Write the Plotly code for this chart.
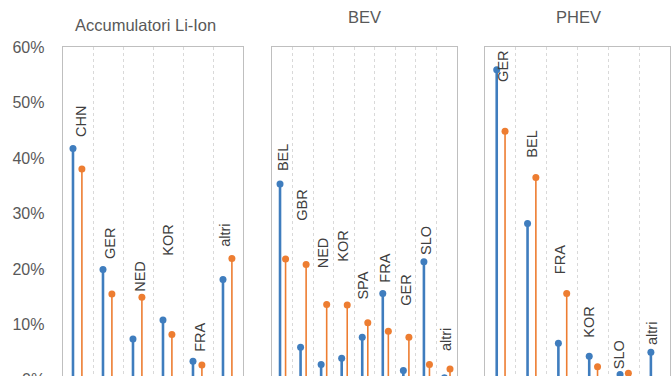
import plotly.graph_objects as go

# ---------------- data ----------------
li_cats = ["CHN", "GER", "NED", "KOR", "FRA", "altri"]
li_blue = [0.417, 0.199, 0.074, 0.108, 0.034, 0.181]
li_orange = [0.380, 0.155, 0.149, 0.082, 0.027, 0.219]
li_label_at = [0.437, 0.217, 0.158, 0.223, 0.050, 0.239]

bev_cats = ["BEL", "GBR", "NED", "KOR", "SPA", "FRA", "GER", "SLO", "altri"]
bev_blue = [0.353, 0.059, 0.028, 0.039, 0.077, 0.156, 0.017, 0.213, 0.004]
bev_orange = [0.218, 0.208, 0.136, 0.135, 0.103, 0.088, 0.077, 0.028, 0.020]
bev_label_at = [0.376, 0.286, 0.201, 0.213, 0.144, 0.175, 0.133, 0.225, 0.052]

phev_cats = ["GER", "BEL", "FRA", "KOR", "SLO", "altri"]
phev_blue = [0.559, 0.282, 0.066, 0.043, 0.010, 0.050]
phev_orange = [0.448, 0.365, 0.156, 0.024, 0.012, 0.0]
phev_label_at = [0.537, 0.401, 0.190, 0.076, 0.020, 0.064]

panel_titles = ["Accumulatori Li-Ion", "BEV", "PHEV"]
y_tick_vals = [0.1, 0.2, 0.3, 0.4, 0.5, 0.6]
y_tick_text = ["10%", "20%", "30%", "40%", "50%", "60%"]
zero_label = "0%"

# ---------------- style ----------------
W, H = 672, 376
FONT = "Liberation Sans, Arial, sans-serif"
BLUE = "#3F7DBE"
ORANGE = "#ED7D31"
TICK_COL = "#595959"
LABEL_COL = "#404040"
BORDER = "#BFBFBF"
GRID = "#D9D9D9"

# label horizontal nudges in pixels (style only)
li_label_dx = [3, 2, 2, 0, 2, -3]
bev_label_dx = [1, -0.8, 0, -0.5, -1, 0.2, 0.4, -0.8, -1.3]
phev_label_dx = [3, 0.5, -2, -3.5, -4, -2.6]

panels = [
    dict(cats=li_cats, blue=li_blue, orange=li_orange, lab=li_label_at,
         dx=li_label_dx, px=(63, 243), off=(-0.167, 0.13),
         title_xy=(145.5, 25)),
    dict(cats=bev_cats, blue=bev_blue, orange=bev_orange, lab=bev_label_at,
         dx=bev_label_dx, px=(272, 457), off=(-0.11, 0.16),
         title_xy=(364.7, 16.7)),
    dict(cats=phev_cats, blue=phev_blue, orange=phev_orange, lab=phev_label_at,
         dx=phev_label_dx, px=(485, 670), off=(-0.12, 0.15),
         title_xy=(578, 16.7)),
]

PLOT_TOP = 47
PX_PER_UNIT = 555.0
y_low = 0.6 - (H - PLOT_TOP) / PX_PER_UNIT

fig = go.Figure()
annotations = []

for k, p in enumerate(panels):
    n = len(p["cats"])
    sfx = "" if k == 0 else str(k + 1)
    xa, ya = "x" + sfx, "y" + sfx
    xs = list(range(n))
    cat_px = (p["px"][1] - p["px"][0]) / n
    fig.add_trace(go.Scatter(
        x=[i + p["off"][0] for i in xs], y=p["blue"], mode="markers",
        marker=dict(color=BLUE, size=7),
        error_y=dict(type="data", symmetric=False, array=[0] * n,
                     arrayminus=p["blue"], color=BLUE, thickness=2.6, width=0),
        xaxis=xa, yaxis=ya, showlegend=False, hoverinfo="skip"))
    fig.add_trace(go.Scatter(
        x=[i + p["off"][1] for i in xs], y=p["orange"], mode="markers",
        marker=dict(color=ORANGE, size=7),
        error_y=dict(type="data", symmetric=False, array=[0] * n,
                     arrayminus=p["orange"], color=ORANGE, thickness=1.6, width=0),
        xaxis=xa, yaxis=ya, showlegend=False, hoverinfo="skip"))

    for i, (c, v) in enumerate(zip(p["cats"], p["lab"])):
        annotations.append(dict(
            x=i + p["dx"][i] / cat_px, y=v, xref=xa, yref=ya, text=c,
            showarrow=False, textangle=-90, xanchor="center", yanchor="bottom",
            borderpad=0, borderwidth=0,
            font=dict(family=FONT, size=14.5, color=LABEL_COL)))

    annotations.append(dict(
        x=p["title_xy"][0] / W, y=1 - p["title_xy"][1] / H, xref="paper",
        yref="paper", text=panel_titles[k], showarrow=False,
        xanchor="center", yanchor="middle",
        font=dict(family=FONT, size=16.5, color=TICK_COL)))

    dom = [p["px"][0] / W, p["px"][1] / W]
    fig.layout["xaxis" + sfx] = dict(
        domain=dom, range=[-0.5, n - 0.5], anchor=ya, side="top",
        showline=True, linecolor=BORDER, linewidth=1.3, mirror=False,
        tickvals=[i + 0.5 for i in range(n - 1)], showticklabels=False,
        ticks="", showgrid=True, gridcolor=GRID, griddash="dot",
        gridwidth=1, zeroline=False, fixedrange=True, automargin=False)
    fig.layout["yaxis" + sfx] = dict(
        domain=[0, 1 - PLOT_TOP / H], range=[y_low, 0.6], anchor=xa,
        showline=True, linecolor=BORDER, linewidth=1.3, mirror=True,
        showgrid=False, zeroline=False, ticks="",
        tickvals=y_tick_vals, ticktext=y_tick_text,
        showticklabels=(k == 0), ticklabelstandoff=14, automargin=False,
        tickfont=dict(family=FONT, size=16, color=TICK_COL), fixedrange=True)

annotations.append(dict(
    x=46.7 / W, y=1 - 379.8 / H, xref="paper", yref="paper", text=zero_label,
    showarrow=False, xanchor="right", yanchor="middle",
    font=dict(family=FONT, size=16, color=TICK_COL)))

fig.update_layout(
    width=W, height=H, margin=dict(l=0, r=0, t=0, b=0, pad=0, autoexpand=False),
    paper_bgcolor="white", plot_bgcolor="white",
    annotations=annotations, font=dict(family=FONT))

fix_page = (
    "document.documentElement.style.margin='0';"
    "document.body.style.margin='0';"
    "document.body.style.overflow='hidden';"
    "var gd=document.getElementById('{plot_id}');"
    "gd.style.position='absolute';gd.style.left='0px';gd.style.top='0px';"
)

fig.write_html("out.html", post_script=fix_page,
               config={"displayModeBar": False, "staticPlot": True})
